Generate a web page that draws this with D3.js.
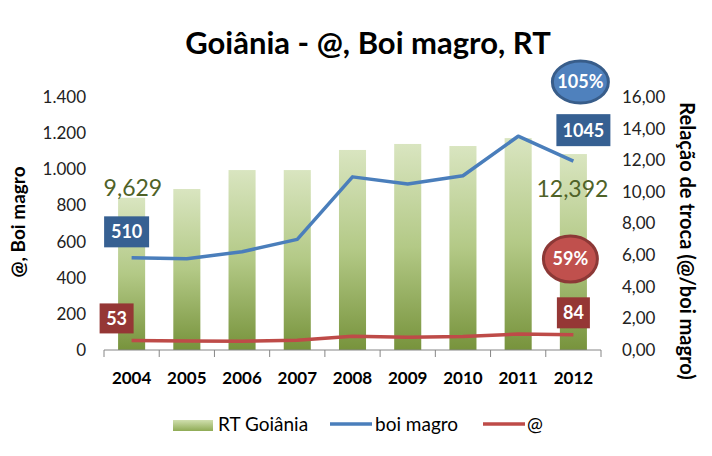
<!DOCTYPE html>
<html><head><meta charset="utf-8">
<script src="https://cdn.jsdelivr.net/npm/d3@7"></script>
<style>
body{margin:0;background:#fff;}
svg{display:block;font-family:Lato,"Liberation Sans",sans-serif;}
</style></head>
<body>
<svg id="chart" width="712" height="456"></svg>
<script>
const years = ["2004","2005","2006","2007","2008","2009","2010","2011","2012"];
const rtGoiania = [9.629, 10.18, 11.38, 11.38, 12.65, 13.03, 12.90, 13.40, 12.392];
const boiMagro = [510, 505, 544, 612, 958, 918, 964, 1183, 1045];
const arroba = [53, 50, 48, 54, 76, 70, 75, 88, 84];
const leftTicks = [0,200,400,600,800,1000,1200,1400];
const rightTicks = [0,2,4,6,8,10,12,14,16];

const svg = d3.select("#chart");
const m = {left:104, right:601, top:97, bottom:350};
const fmtL = d3.formatLocale({decimal:",", thousands:".", grouping:[3], currency:["R$",""]});
const fL = fmtL.format(",d"), fR = fmtL.format(",.2f"), f3 = fmtL.format(",.3f");

const x = d3.scaleBand().domain(years).range([m.left, m.right]).paddingInner(0.51).paddingOuter(0.255);
const yL = d3.scaleLinear().domain([0,1400]).range([m.bottom, m.top]);
const yR = d3.scaleLinear().domain([0,16]).range([m.bottom, m.top]);

const defs = svg.append("defs");
const g = defs.append("linearGradient").attr("id","barGrad").attr("x1",0).attr("y1",0).attr("x2",0).attr("y2",1);
g.append("stop").attr("offset","0%").attr("stop-color","#d9e5c0");
g.append("stop").attr("offset","50%").attr("stop-color","#b3c986");
g.append("stop").attr("offset","100%").attr("stop-color","#77933c");
const lg = defs.append("linearGradient").attr("id","legGrad").attr("x1",0).attr("y1",0).attr("x2",0).attr("y2",1);
lg.append("stop").attr("offset","0%").attr("stop-color","#d0dfae");
lg.append("stop").attr("offset","100%").attr("stop-color","#8fab55");

// title
svg.append("text").attr("x",368).attr("y",54).attr("text-anchor","middle")
  .attr("font-size",31).attr("font-weight","bold").attr("fill","#000")
  .text("Goiânia - @, Boi magro, RT");

// bars
svg.append("g").selectAll("rect").data(years).join("rect")
  .attr("x", d=>x(d)).attr("width", x.bandwidth())
  .attr("y", (d,i)=>yR(rtGoiania[i])).attr("height",(d,i)=>yR(0)-yR(rtGoiania[i]))
  .attr("fill","url(#barGrad)");

// x axis
const xAxis = svg.append("g").attr("transform",`translate(0,${m.bottom})`);
xAxis.append("line").attr("x1",m.left).attr("x2",m.right).attr("stroke","#868686");
const bounds = years.map(d=>x(d)-x.step()*x.paddingInner()/2);
bounds.push(m.right);
bounds[0]=m.left;
xAxis.selectAll("line.tk").data(bounds).join("line").attr("class","tk")
  .attr("x1",d=>d).attr("x2",d=>d).attr("y1",0).attr("y2",7).attr("stroke","#868686");
xAxis.selectAll("text").data(years).join("text")
  .attr("x",d=>x(d)+x.bandwidth()/2).attr("y",34).attr("text-anchor","middle")
  .attr("font-size",17).attr("font-weight","bold").attr("fill","#000").text(d=>d);

// left axis
const aL = d3.axisLeft(yL).tickValues(leftTicks).tickFormat(fL).tickSize(0).tickPadding(0);
const gL = svg.append("g").attr("transform",`translate(86,0)`).call(aL);
gL.select(".domain").remove();
gL.selectAll("text").attr("font-size",17).attr("fill","#222").attr("font-family","Lato,sans-serif");
// right axis
const aR = d3.axisRight(yR).tickValues(rightTicks).tickFormat(fR).tickSize(0).tickPadding(0);
const gR = svg.append("g").attr("transform",`translate(622,0)`).call(aR);
gR.select(".domain").remove();
gR.selectAll("text").attr("font-size",17).attr("fill","#222").attr("font-family","Lato,sans-serif");

// axis titles
svg.append("text").attr("transform",`translate(25,222) rotate(-90)`)
  .attr("text-anchor","middle").attr("font-size",19).attr("font-weight","bold").text("@, Boi magro");
svg.append("text").attr("transform",`translate(680,241) rotate(90)`)
  .attr("text-anchor","middle").attr("font-size",20).attr("font-weight","bold").text("Relação de troca (@/boi magro)");

// lines
const cx = d=>x(d)+x.bandwidth()/2;
const lineL = d3.line().x((d,i)=>cx(years[i])).y(d=>yL(d));
svg.append("path").datum(boiMagro).attr("d",lineL).attr("fill","none")
  .attr("stroke","#4a7ebb").attr("stroke-width",3.5).attr("stroke-linejoin","round");
svg.append("path").datum(arroba).attr("d",lineL).attr("fill","none")
  .attr("stroke","#be4b48").attr("stroke-width",3.5).attr("stroke-linejoin","round");

// annotations
function box(cxp, cyp, w, h, fill, txt){
  svg.append("rect").attr("x",cxp-w/2).attr("y",cyp-h/2).attr("width",w).attr("height",h).attr("fill",fill);
  svg.append("text").attr("x",cxp).attr("y",cyp).attr("dy","0.36em").attr("text-anchor","middle")
    .attr("font-size",18).attr("font-weight","bold").attr("fill","#fff").text(txt);
}
function ell(cxp, cyp, rx, ry, fill, stroke, txt){
  svg.append("ellipse").attr("cx",cxp).attr("cy",cyp).attr("rx",rx).attr("ry",ry)
    .attr("fill",fill).attr("stroke",stroke).attr("stroke-width",3);
  svg.append("text").attr("x",cxp).attr("y",cyp).attr("dy","0.36em").attr("text-anchor","middle")
    .attr("font-size",18).attr("font-weight","bold").attr("fill","#fff").text(txt);
}
const x0 = cx(years[0]), x8 = cx(years[8]);
box(x0-5, yL(boiMagro[0])-26, 45, 31, "#366092", fL(boiMagro[0]));
box(x0-15, yL(arroba[0])-22, 34, 30, "#953735", fL(arroba[0]));
box(x8+10, yL(boiMagro[8])-31, 54, 32, "#366092", String(boiMagro[8]));
box(x8, yL(arroba[8])-22, 33, 31, "#953735", String(arroba[8]));
svg.append("text").attr("x",x0-28).attr("y",yR(rtGoiania[0])-2).attr("font-size",23)
  .attr("fill","#4f6228").text(f3(rtGoiania[0]));
svg.append("text").attr("x",x8+35).attr("y",yR(rtGoiania[8])+43).attr("text-anchor","end").attr("font-size",23)
  .attr("fill","#4f6228").text(f3(rtGoiania[8]));
ell(x8+7, 82, 28, 21, "#4f81bd", "#385d8a", "105%");
ell(x8-3, 259, 27, 23, "#c0504d", "#8c3836", "59%");

// legend
const leg = svg.append("g").attr("font-size",19).attr("fill","#000");
leg.append("rect").attr("x",173).attr("y",420).attr("width",40).attr("height",11).attr("fill","url(#legGrad)");
leg.append("text").attr("x",218).attr("y",431).text("RT Goiânia");
leg.append("line").attr("x1",330).attr("x2",372).attr("y1",424).attr("y2",424).attr("stroke","#4a7ebb").attr("stroke-width",3.5);
leg.append("text").attr("x",375).attr("y",431).text("boi magro");
leg.append("line").attr("x1",483).attr("x2",525).attr("y1",424).attr("y2",424).attr("stroke","#be4b48").attr("stroke-width",3.5);
leg.append("text").attr("x",527).attr("y",431).text("@");
</script>
</body></html>
